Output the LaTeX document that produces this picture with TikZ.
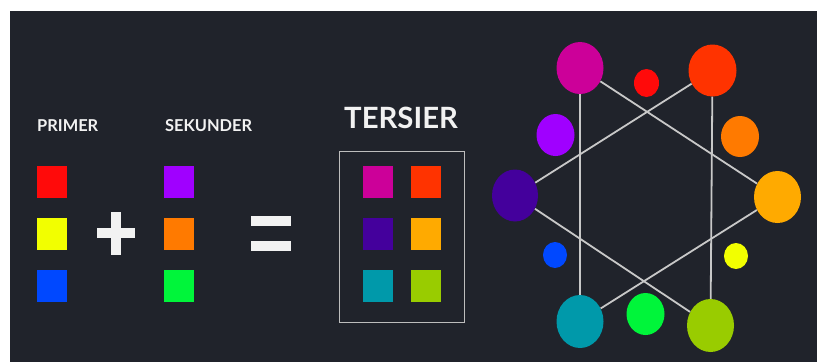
\documentclass[tikz,border=0pt]{standalone}
\usepackage{fontspec}
\setmainfont{Lato}
\usetikzlibrary{shapes.geometric}
\definecolor{bg}{HTML}{20232B}
\definecolor{txt}{HTML}{F2F2F2}
\definecolor{linec}{HTML}{C8C8C8}
\definecolor{boxc}{HTML}{BDBDBD}
\definecolor{cRed}{HTML}{FF0A0A}
\definecolor{cYellow}{HTML}{F2FF00}
\definecolor{cBlue}{HTML}{0048FF}
\definecolor{cPurple}{HTML}{A000FF}
\definecolor{cOrange}{HTML}{FF7A00}
\definecolor{cGreen}{HTML}{00F53A}
\definecolor{cMagenta}{HTML}{CC0099}
\definecolor{cRedOr}{HTML}{FF3300}
\definecolor{cIndigo}{HTML}{44009C}
\definecolor{cAmber}{HTML}{FFAA00}
\definecolor{cTeal}{HTML}{0099AA}
\definecolor{cLime}{HTML}{99CC00}
\begin{document}
\begin{tikzpicture}[x=1pt,y=-1pt,
  sq/.style={rectangle,minimum width=30pt,minimum height=32pt,inner sep=0pt,fill=#1},
  blob/.style n args={3}{ellipse,fill=#1,minimum width=#2,minimum height=#3,inner sep=0pt},
  lbl/.style={anchor=base west,text=txt,inner sep=0pt,font=\bfseries\fontsize{16.4}{16.4}\selectfont},
  biglbl/.style={anchor=base west,text=txt,inner sep=0pt,font=\bfseries\fontsize{29.3}{29.3}\selectfont},
  link/.style={draw=linec,line width=1.8pt},
  symbar/.style={rectangle,fill=txt,inner sep=0pt}]
\useasboundingbox (0,0) rectangle (817,362);
\fill[white] (0,0) rectangle (817,362);
\fill[bg] (10,11) rectangle (817,362);
% labels
\node[lbl] (primer) at (37,131.7) {PRIMER};
\node[lbl] (sekunder) at (165,131.7) {SEKUNDER};
\node[biglbl] (tersier) at (344,128.3) {TERSIER};
% primary squares
\node[sq=cRed] (p1) at (52,182) {};
\node[sq=cYellow] (p2) at (52,234) {};
\node[sq=cBlue] (p3) at (52,286) {};
% plus
\node[symbar,minimum width=38pt,minimum height=10pt] (plush) at (116,233) {};
\node[symbar,minimum width=10pt,minimum height=43pt] (plusv) at (116,233) {};
% secondary squares
\node[sq=cPurple] (s1) at (179,182) {};
\node[sq=cOrange] (s2) at (179,234) {};
\node[sq=cGreen] (s3) at (179,286) {};
% equals
\node[symbar,minimum width=40pt,minimum height=10pt] (eq1) at (271,221) {};
\node[symbar,minimum width=40pt,minimum height=10pt] (eq2) at (271,246) {};
% tertiary box
\node[draw=boxc,line width=1.5pt,minimum width=125pt,minimum height=171pt,inner sep=0pt] (tbox) at (402,237) {};
\node[sq=cMagenta] (t1) at (378,182) {};
\node[sq=cRedOr] (t2) at (425.5,182) {};
\node[sq=cIndigo] (t3) at (378,234) {};
\node[sq=cAmber] (t4) at (425.5,234) {};
\node[sq=cTeal] (t5) at (378,286) {};
\node[sq=cLime] (t6) at (425.5,286) {};
% wheel
\node[blob={cMagenta}{47pt}{52pt}] (wMag) at (580,68) {};
\node[blob={cRed}{25pt}{28pt}] (wRed) at (646.5,83) {};
\node[blob={cRedOr}{48pt}{52pt}] (wRedOr) at (712.5,70.5) {};
\node[blob={cPurple}{38pt}{42pt}] (wPur) at (555.5,135) {};
\node[blob={cOrange}{38pt}{41pt}] (wOr) at (740,136.5) {};
\node[blob={cIndigo}{46pt}{52pt}] (wInd) at (515,195.5) {};
\node[blob={cAmber}{47pt}{52pt}] (wAmb) at (777.5,197) {};
\node[blob={cBlue}{24pt}{26pt}] (wBlue) at (555,255) {};
\node[blob={cYellow}{24pt}{26pt}] (wYel) at (736,256) {};
\node[blob={cTeal}{47pt}{53pt}] (wTeal) at (580,321.5) {};
\node[blob={cGreen}{38pt}{42pt}] (wGreen) at (645.5,314) {};
\node[blob={cLime}{47pt}{53pt}] (wLime) at (710.5,325.5) {};
% hexagram
\draw[link] (wMag) -- (wTeal);
\draw[link] (wMag) -- (wAmb);
\draw[link] (wAmb) -- (wTeal);
\draw[link] (wRedOr) -- (wLime);
\draw[link] (wRedOr) -- (wInd);
\draw[link] (wInd) -- (wLime);
\end{tikzpicture}
\end{document}
